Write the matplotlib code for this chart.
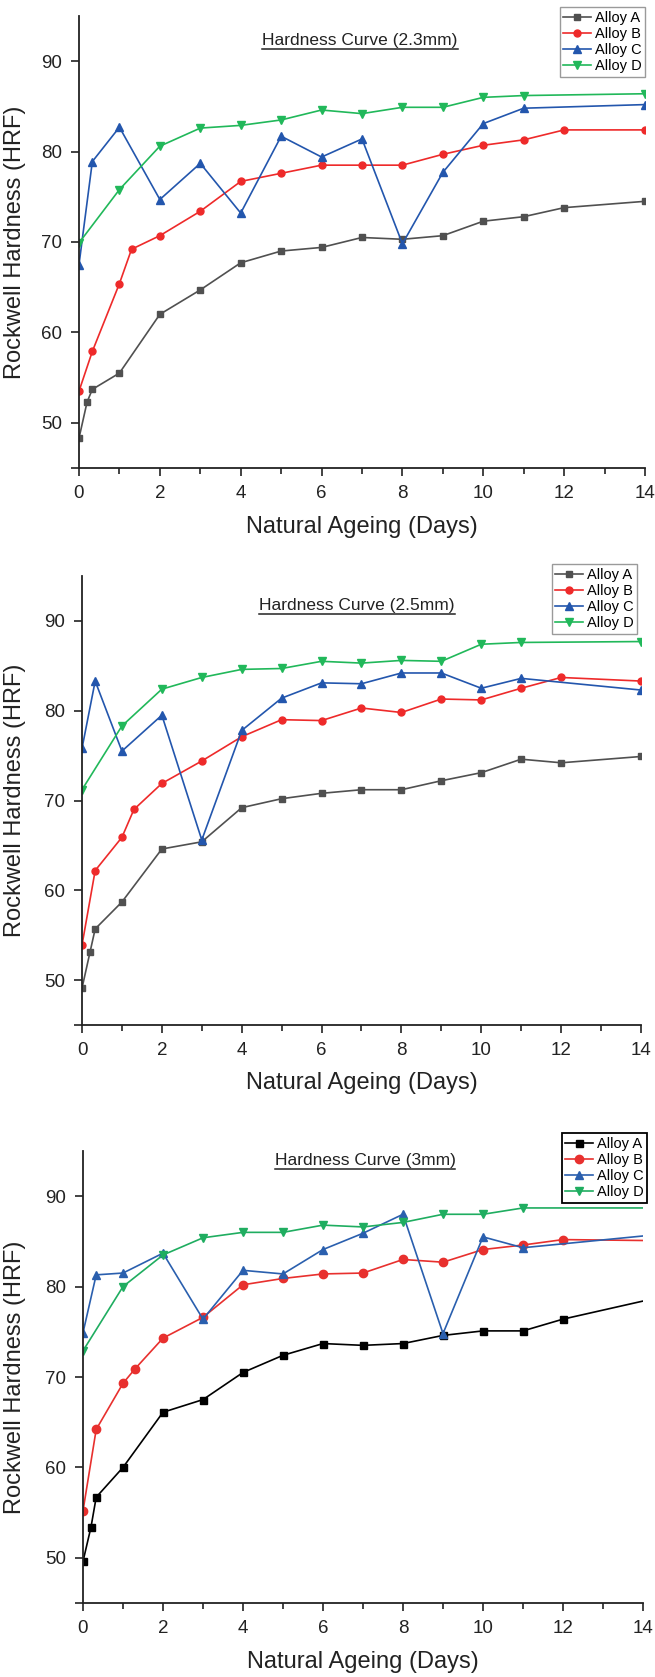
"""
Rockwell hardness vs natural ageing for three sheet thicknesses
"""
import matplotlib
matplotlib.use('Agg')
import matplotlib.pyplot as plt
from matplotlib.lines import Line2D
from matplotlib.ticker import MultipleLocator

plt.rcParams['font.family'] = ['Liberation Sans', 'DejaVu Sans']

# days at which each alloy was measured
days_a = [0, 0.2, 0.33, 1, 2, 3, 4, 5, 6, 7, 8, 9, 10, 11, 12, 14]
days_b = [0, 0.33, 1, 1.3, 2, 3, 4, 5, 6, 7, 8, 9, 10, 11, 12, 14]
days_c = [0, 0.33, 1, 2, 3, 4, 5, 6, 7, 8, 9, 10, 11, 14]
days_d = [0, 1, 2, 3, 4, 5, 6, 7, 8, 9, 10, 11, 14]

# 2.3 mm
a_23 = [48.3, 52.3, 53.7, 55.5, 62.0, 64.7, 67.7, 69.0, 69.4, 70.5, 70.3, 70.7, 72.3, 72.8, 73.8, 74.5]
b_23 = [53.5, 57.9, 65.4, 69.2, 70.7, 73.4, 76.7, 77.6, 78.5, 78.5, 78.5, 79.7, 80.7, 81.3, 82.4, 82.4]
c_23 = [67.5, 78.9, 82.7, 74.7, 78.7, 73.2, 81.7, 79.4, 81.4, 69.8, 77.7, 83.1, 84.8, 85.2]
d_23 = [69.9, 75.8, 80.6, 82.6, 82.9, 83.5, 84.6, 84.2, 84.9, 84.9, 86.0, 86.2, 86.4]

# 2.5 mm
a_25 = [49.1, 53.1, 55.7, 58.7, 64.6, 65.4, 69.2, 70.2, 70.8, 71.2, 71.2, 72.2, 73.1, 74.6, 74.2, 74.9]
b_25 = [53.9, 62.2, 65.9, 69.0, 71.9, 74.4, 77.1, 79.0, 78.9, 80.3, 79.8, 81.3, 81.2, 82.5, 83.7, 83.3]
c_25 = [75.8, 83.3, 75.5, 79.5, 65.6, 77.8, 81.4, 83.1, 83.0, 84.2, 84.2, 82.5, 83.6, 82.3]
d_25 = [71.2, 78.3, 82.4, 83.7, 84.6, 84.7, 85.5, 85.3, 85.6, 85.5, 87.4, 87.6, 87.7]

# 3 mm
a_3 = [49.6, 53.4, 56.7, 60.0, 66.1, 67.5, 70.5, 72.4, 73.7, 73.5, 73.7, 74.6, 75.1, 75.1, 76.4, 78.4]
b_3 = [55.2, 64.2, 69.3, 70.9, 74.3, 76.6, 80.2, 80.9, 81.4, 81.5, 83.0, 82.7, 84.1, 84.6, 85.2, 85.1]
c_3 = [74.9, 81.3, 81.5, 83.7, 76.4, 81.8, 81.4, 84.1, 85.9, 88.0, 74.8, 85.5, 84.3, 85.6]
d_3 = [72.9, 80.0, 83.5, 85.4, 86.0, 86.0, 86.8, 86.6, 87.1, 88.0, 88.0, 88.7, 88.7]

labels = ['Alloy A', 'Alloy B', 'Alloy C', 'Alloy D']
titles = ['Hardness Curve (2.3mm)', 'Hardness Curve (2.5mm)', 'Hardness Curve (3mm)']

W, H = 655, 1677
fig = plt.figure(figsize=(W / 100, H / 100), dpi=100)

# panel boxes in pixels: left, right, top, bottom
boxes = [(79, 645, 16, 468), (82, 641, 576, 1025), (83, 643, 1151, 1603)]
legend_anchor = [(645, 7), (637, 564), (647, 1133)]
title_pos = [(360, 40), (357, 606), (365, 1160)]
label_y = [527, 1083, 1662]

panels = [
    (a_23, b_23, c_23, d_23),
    (a_25, b_25, c_25, d_25),
    (a_3, b_3, c_3, d_3),
]

soft = ['#505050', '#ee2a2a', '#2356ad', '#21b85a']
dark = ['#000000', '#e8302e', '#2a5fae', '#1fad60']

title_texts = []
for i, (vals, box) in enumerate(zip(panels, boxes)):
    l, r, t, b = box
    ax = fig.add_axes([l / W, 1 - b / H, (r - l) / W, (b - t) / H])
    cols = dark if i == 2 else soft
    big = 1.2 if i == 2 else 1.0
    series = [(days_a, vals[0], 's', 4.2), (days_b, vals[1], 'o', 5.0),
              (days_c, vals[2], '^', 5.2), (days_d, vals[3], 'v', 5.2)]
    for (x, y, m, ms), col, lab in zip(series, cols, labels):
        # the 3mm plot has no marker on the last (14 day) point
        mev = list(range(len(x) - 1)) if i == 2 else None
        ax.plot(x, y, color=col, marker=m, markersize=ms * big, linewidth=1.2,
                markevery=mev, label=lab)

    ax.set_xlim(0, 14)
    ax.set_ylim(45, 95)
    ax.set_xticks(range(0, 15, 2))
    ax.xaxis.set_minor_locator(MultipleLocator(1))
    ax.set_yticks([45, 50, 60, 70, 80, 90])
    ax.set_yticklabels(['', '50', '60', '70', '80', '90'])
    ax.spines['top'].set_visible(False)
    ax.spines['right'].set_visible(False)
    for s in ['left', 'bottom']:
        ax.spines[s].set_linewidth(1.3)
        ax.spines[s].set_color('#222222')
    ax.tick_params(axis='both', which='major', direction='out', length=6,
                   width=1.2, labelsize=13.5, colors='#222222', pad=6)
    ax.tick_params(axis='x', which='minor', direction='out', length=4, width=1.2,
                   colors='#222222')
    ax.set_ylabel('Rockwell Hardness (HRF)', fontsize=17, color='#222222')
    ax.yaxis.set_label_coords((26 - l) / (r - l), 0.5)
    ax.set_xlabel('Natural Ageing (Days)', fontsize=17, color='#222222')
    ax.xaxis.set_label_coords(((l + r) / 2 - l) / (r - l), (b - label_y[i]) / (b - t))
    ax.xaxis.label.set_va('center')

    lx, ly = legend_anchor[i]
    leg = ax.legend(loc='upper right', bbox_to_anchor=(lx / W, 1 - ly / H),
                    bbox_transform=fig.transFigure, fontsize=10.5, frameon=True,
                    fancybox=False, framealpha=1, borderaxespad=0, borderpad=0.25,
                    labelspacing=0.15, handlelength=1.9, handletextpad=0.25)
    leg.get_frame().set_edgecolor('#000000' if i == 2 else '#9a9a9a')
    leg.get_frame().set_linewidth(1.3 if i == 2 else 1.0)

    tx, ty = title_pos[i]
    tt = fig.text(tx / W, 1 - ty / H, titles[i], ha='center', va='center',
                  fontsize=12.5, color='#222222')
    title_texts.append(tt)

# underline the panel titles
fig.canvas.draw()
inv = fig.transFigure.inverted()
for tt in title_texts:
    bb = tt.get_window_extent()
    (x0, y0), (x1, _) = inv.transform([(bb.x0, bb.y0 - 1), (bb.x1, bb.y0)])
    fig.add_artist(Line2D([x0, x1], [y0, y0], transform=fig.transFigure,
                          color='#222222', linewidth=1.1))

plt.savefig('out.png', dpi=100)
plt.close()
